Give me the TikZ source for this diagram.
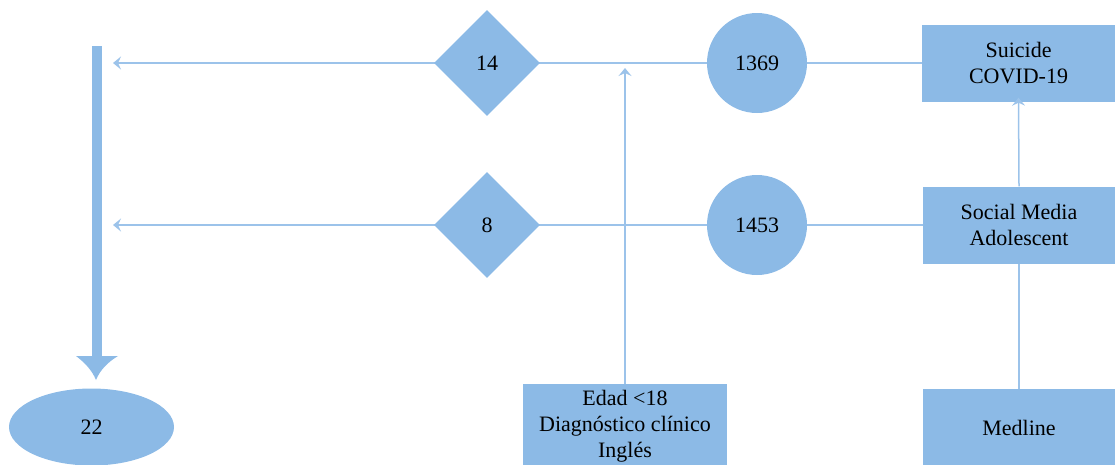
\documentclass[tikz,border=0pt]{standalone}
\usepackage{fontspec}
\setmainfont{Liberation Serif}
\usetikzlibrary{shapes.geometric,arrows.meta}
\definecolor{boxblue}{HTML}{8CBAE6}
\definecolor{lineblue}{HTML}{9CC3EA}
\tikzset{
 shp/.style={fill=boxblue, draw=none, font=\fontsize{22}{26}\selectfont, text=black, inner sep=0pt},
 rbox/.style={shp, minimum width=193pt, minimum height=77pt, align=center},
 dia/.style={shp, diamond, minimum width=106pt, minimum height=106pt},
 circ/.style={shp, circle, minimum size=100pt},
 conn/.style={draw=lineblue, line width=1.5pt},
 arr/.style={conn, -{Stealth[length=8pt,width=13pt,inset=3pt]}},
}
\begin{document}
\begin{tikzpicture}[x=1pt,y=-1pt]
\useasboundingbox (0,0) rectangle (1115,464);
\clip (0,0) rectangle (1115,464);
% coordinates
\coordinate (t1) at (113,63);
\coordinate (t2) at (113,225);
\coordinate (t3) at (625,68);
\coordinate (bartop) at (97,46);
\coordinate (barend) at (97,357);
\coordinate (tip) at (96,380);
% connectors
\draw[conn] (1019,63) -- (757,63);
\draw[conn] (757,63) -- (487,63);
\draw[arr] (487,63) -- (t1);
\draw[conn] (1019,225) -- (757,225);
\draw[conn] (757,225) -- (487,225);
\draw[arr] (487,225) -- (t2);
% nodes
\node[rbox] (sui) at (1018.5,63) {Suicide\\COVID-19};
\node[rbox] (soc) at (1019,225) {Social Media\\Adolescent};
\node[rbox] (med) at (1019,427.5) {Medline};
\node[rbox, minimum width=204pt, minimum height=84pt] (edad) at (625,426) {Edad {<}18\\Diagn\'ostico cl\'inico\\Ingl\'es};
\node[circ] (c1) at (757,63) {1369};
\node[circ] (c2) at (757,225) {1453};
\node[dia] (d1) at (487,63) {14};
\node[dia] (d2) at (487,225) {8};
\node[shp, ellipse, minimum width=165pt, minimum height=77pt] (e) at (91.5,427) {22};
% vertical connectors
\draw[conn] (med.north) -- (soc.south);
\draw[arr] (soc.north) -- ([yshift=4pt]sui.south);
\draw[arr] (edad.north) -- (t3);
% thick bar
\draw[boxblue, line width=10pt] (bartop) -- (barend);
\fill[boxblue] (barend) ++(-21,-1) -- ++(42,0) .. controls (108,362) and (100,370) .. (tip) .. controls (92,370) and (84,362) .. ([xshift=-21pt,yshift=1pt]barend) -- cycle;
\end{tikzpicture}
\end{document}
